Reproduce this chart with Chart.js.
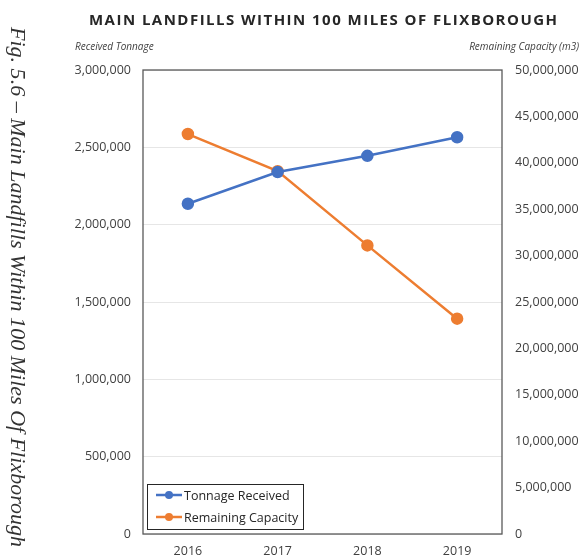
<!DOCTYPE html>
<html>
<head>
<meta charset="utf-8">
<script src="https://cdn.jsdelivr.net/npm/chart.js@4/dist/chart.umd.min.js"></script>
<style>
  html, body { margin: 0; padding: 0; background: #fff; }
  #wrap { position: relative; width: 582px; height: 558px; }
</style>
</head>
<body>
<div id="wrap"><canvas id="grafico" width="582" height="558"></canvas></div>
<script>
// dados
const anos = ["2016", "2017", "2018", "2019"];
const tonelagem = [2135000, 2340000, 2445000, 2565000];
const capacidade = [43100000, 39100000, 31100000, 23200000];
const ticksEsq = [0, 500000, 1000000, 1500000, 2000000, 2500000, 3000000];
const ticksDir = [0, 5000000, 10000000, 15000000, 20000000, 25000000, 30000000, 35000000, 40000000, 45000000, 50000000];

const titulo = "MAIN LANDFILLS WITHIN 100 MILES OF FLIXBOROUGH";
const legenda = ["Tonnage Received", "Remaining Capacity"];
const cores = ["#4472C4", "#ED7D31"];
const legenda_fig = "Fig. 5.6 \u2013 Main Landfills Within 100 Miles Of Flixborough";

const fonte = "'Open Sans', 'DejaVu Sans', sans-serif";
const fmt = v => Number(v).toLocaleString("en-US");

// textos, moldura e legenda desenhados à mão
const extras = {
  id: "extras",
  beforeDatasetsDraw(chart) {
    const { ctx, chartArea: a } = chart;
    ctx.save();
    ctx.strokeStyle = "#595959";
    ctx.lineWidth = 1.3;
    ctx.strokeRect(a.left, a.top, a.right - a.left, a.bottom - a.top);
    ctx.restore();
  },
  afterDraw(chart) {
    const { ctx } = chart;
    ctx.save();

    // título com espaçamento
    ctx.font = "bold 15px " + fonte;
    ctx.fillStyle = "#262626";
    ctx.textBaseline = "middle";
    ctx.textAlign = "left";
    const w = ctx.measureText(titulo).width;
    const esp = (468 - w) / (titulo.length - 1);
    let x = 89;
    for (const ch of titulo) {
      ctx.fillText(ch, x, 21);
      x += ctx.measureText(ch).width + esp;
    }

    // títulos dos eixos
    ctx.font = "italic 10px " + fonte;
    ctx.fillStyle = "#404040";
    ctx.textAlign = "left";
    ctx.fillText("Received Tonnage", 75, 47);
    ctx.textAlign = "right";
    ctx.fillText("Remaining Capacity (m3)", 579, 47);

    // legenda
    const lx = 147, ly = 484, lw = 156, lh = 45;
    ctx.fillStyle = "#fff";
    ctx.fillRect(lx, ly, lw, lh);
    ctx.strokeStyle = "#262626";
    ctx.lineWidth = 1;
    ctx.strokeRect(lx + 0.5, ly + 0.5, lw, lh);
    ctx.font = "12.5px " + fonte;
    ctx.textAlign = "left";
    legenda.forEach((txt, i) => {
      const y = ly + 11 + i * 22;
      ctx.strokeStyle = cores[i];
      ctx.lineWidth = 2.5;
      ctx.beginPath();
      ctx.moveTo(lx + 9, y);
      ctx.lineTo(lx + 35, y);
      ctx.stroke();
      ctx.fillStyle = cores[i];
      ctx.beginPath();
      ctx.arc(lx + 22, y, 4, 0, Math.PI * 2);
      ctx.fill();
      ctx.fillStyle = "#262626";
      ctx.fillText(txt, lx + 37, y + 1);
    });

    // legenda da figura, girada
    ctx.font = "italic 22px 'Liberation Serif', 'DejaVu Serif', serif";
    ctx.fillStyle = "#333";
    ctx.translate(17, 27);
    ctx.rotate(Math.PI / 2);
    ctx.textAlign = "left";
    ctx.textBaseline = "middle";
    const wf = ctx.measureText(legenda_fig).width;
    ctx.scale(520 / wf, 1);
    ctx.fillText(legenda_fig, 0, 0);
    ctx.restore();
  }
};

const ctx = document.getElementById("grafico").getContext("2d");
new Chart(ctx, {
  type: "line",
  data: {
    labels: anos,
    datasets: [{
      label: legenda[0],
      data: tonelagem,
      yAxisID: "y",
      borderColor: cores[0],
      backgroundColor: cores[0],
      pointBackgroundColor: cores[0],
      pointBorderColor: cores[0],
      borderWidth: 2.5,
      pointRadius: 5,
      tension: 0
    }, {
      label: legenda[1],
      data: capacidade,
      yAxisID: "y1",
      borderColor: cores[1],
      backgroundColor: cores[1],
      pointBackgroundColor: cores[1],
      pointBorderColor: cores[1],
      borderWidth: 2.5,
      pointRadius: 5,
      tension: 0
    }]
  },
  options: {
    responsive: false,
    animation: false,
    layout: { padding: { top: 70, left: 0, right: 0, bottom: 0 } },
    plugins: {
      legend: { display: false },
      title: { display: false },
      tooltip: { enabled: false }
    },
    scales: {
      x: {
        offset: true,
        grid: { display: false },
        border: { display: false },
        ticks: { color: "#404040", font: { family: fonte, size: 12.5 }, padding: 2 },
        afterFit(s) { s.height = 24; }
      },
      y: {
        position: "left",
        min: 0,
        max: 3000000,
        afterBuildTicks(s) { s.ticks = ticksEsq.map(v => ({ value: v })); },
        grid: { color: "#e6e6e6", lineWidth: 1, drawTicks: false },
        border: { display: false },
        ticks: { color: "#404040", font: { family: fonte, size: 12.5 }, padding: 12, callback: fmt },
        afterFit(s) { s.width = 143; }
      },
      y1: {
        position: "right",
        min: 0,
        max: 50000000,
        afterBuildTicks(s) { s.ticks = ticksDir.map(v => ({ value: v })); },
        grid: { drawOnChartArea: false, drawTicks: false },
        border: { display: false },
        ticks: { color: "#404040", font: { family: fonte, size: 12.5 }, padding: 13, callback: fmt },
        afterFit(s) { s.width = 80; }
      }
    }
  },
  plugins: [extras]
});
</script>
</body>
</html>
